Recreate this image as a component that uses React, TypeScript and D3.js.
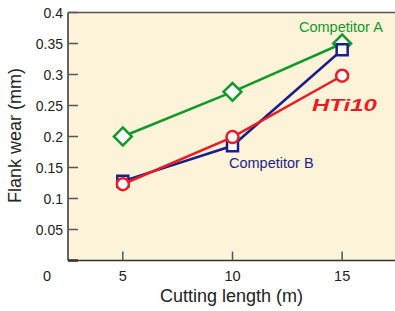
import React from "react";
import * as d3 from "d3";

const lengths = [5, 10, 15];
const competitorA = [0.2, 0.272, 0.35];
const competitorB = [0.128, 0.185, 0.34];
const hti10 = [0.123, 0.199, 0.298];
const xTicks = [5, 10, 15];
const yTicks = [0.05, 0.1, 0.15, 0.2, 0.25, 0.3, 0.35, 0.4];

const W = 395;
const H = 311;
const left = 68;
const top = 12.5;
const bottom = 260.5;

const green = "#12992b";
const navy = "#1c1f8a";
const red = "#ec1c24";

export default function App() {
  const x = d3.scaleLinear().domain([2.5, 17.5]).range([left, 397]);
  const y = d3.scaleLinear().domain([0, 0.4]).range([bottom, top]);

  const line = d3
    .line<number>()
    .x((_, i) => x(lengths[i]))
    .y((d) => y(d));

  const square = d3.symbol(d3.symbolSquare, 121)();
  const diamond = d3.symbol(d3.symbolSquare, 160)();

  return (
    <svg
      width={W}
      height={H}
      style={{ position: "absolute", left: 0, top: 0, fontFamily: "Liberation Sans, Arial, sans-serif" }}
    >
      <rect x={left} y={top} width={W - left} height={bottom - top} fill="#fdf3d8" />
      {/* frame */}
      <line x1={left} x2={W} y1={top} y2={top} stroke="#555" strokeWidth={1.5} />
      <line x1={left} x2={W} y1={bottom} y2={bottom} stroke="#333" strokeWidth={1.5} />
      <line x1={left} x2={left} y1={top} y2={bottom} stroke="#333" strokeWidth={1.5} />

      {/* y ticks */}
      {yTicks.map((t) => (
        <g key={t}>
          <line x1={left} x2={left + 10} y1={y(t)} y2={y(t)} stroke="#555" strokeWidth={1.5} />
          <text x={63} y={y(t)} dy="0.36em" textAnchor="end" fontSize={14} fill="#222">
            {t}
          </text>
        </g>
      ))}
      <line x1={left} x2={left + 10} y1={bottom} y2={bottom} stroke="#333" strokeWidth={2.5} />
      <text x={47} y={280.5} textAnchor="middle" fontSize={14.5} fill="#222">0</text>

      {/* x ticks */}
      {xTicks.map((t) => (
        <g key={t}>
          <line x1={x(t)} x2={x(t)} y1={bottom} y2={bottom - 9} stroke="#555" strokeWidth={1.5} />
          <text x={x(t)} y={280.5} textAnchor="middle" fontSize={14.5} fill="#222">
            {t}
          </text>
        </g>
      ))}

      <text x={231.5} y={302} textAnchor="middle" fontSize={18} fill="#222">
        Cutting length (m)
      </text>
      <text
        transform="translate(21,135.5) rotate(-90)"
        textAnchor="middle"
        fontSize={18}
        fill="#222"
      >
        Flank wear (mm)
      </text>

      {/* Competitor A */}
      <path d={line(competitorA) ?? ""} fill="none" stroke={green} strokeWidth={2.5} />
      {competitorA.map((v, i) => (
        <path
          key={i}
          d={diamond ?? ""}
          transform={`translate(${x(lengths[i])},${y(v)}) rotate(45)`}
          fill="#fff"
          stroke={green}
          strokeWidth={2.5}
        />
      ))}

      {/* Competitor B */}
      <path d={line(competitorB) ?? ""} fill="none" stroke={navy} strokeWidth={2.5} />
      {competitorB.map((v, i) => (
        <path
          key={i}
          d={square ?? ""}
          transform={`translate(${x(lengths[i])},${y(v)})`}
          fill="#fff"
          stroke={navy}
          strokeWidth={2.5}
        />
      ))}

      {/* HTi10 */}
      <path d={line(hti10) ?? ""} fill="none" stroke={red} strokeWidth={2.5} />
      {hti10.map((v, i) => (
        <circle key={i} cx={x(lengths[i])} cy={y(v)} r={6} fill="#fff" stroke={red} strokeWidth={2.5} />
      ))}

      <text x={299} y={32} fontSize={14.5} fill={green}>Competitor A</text>
      <text x={229} y={168} fontSize={14.5} fill={navy}>Competitor B</text>
      <text
        x={312}
        y={111}
        fontSize={17}
        fontWeight="bold"
        fontStyle="italic"
        fill={red}
        textLength={65}
        lengthAdjust="spacingAndGlyphs"
      >
        HTi10
      </text>
    </svg>
  );
}
